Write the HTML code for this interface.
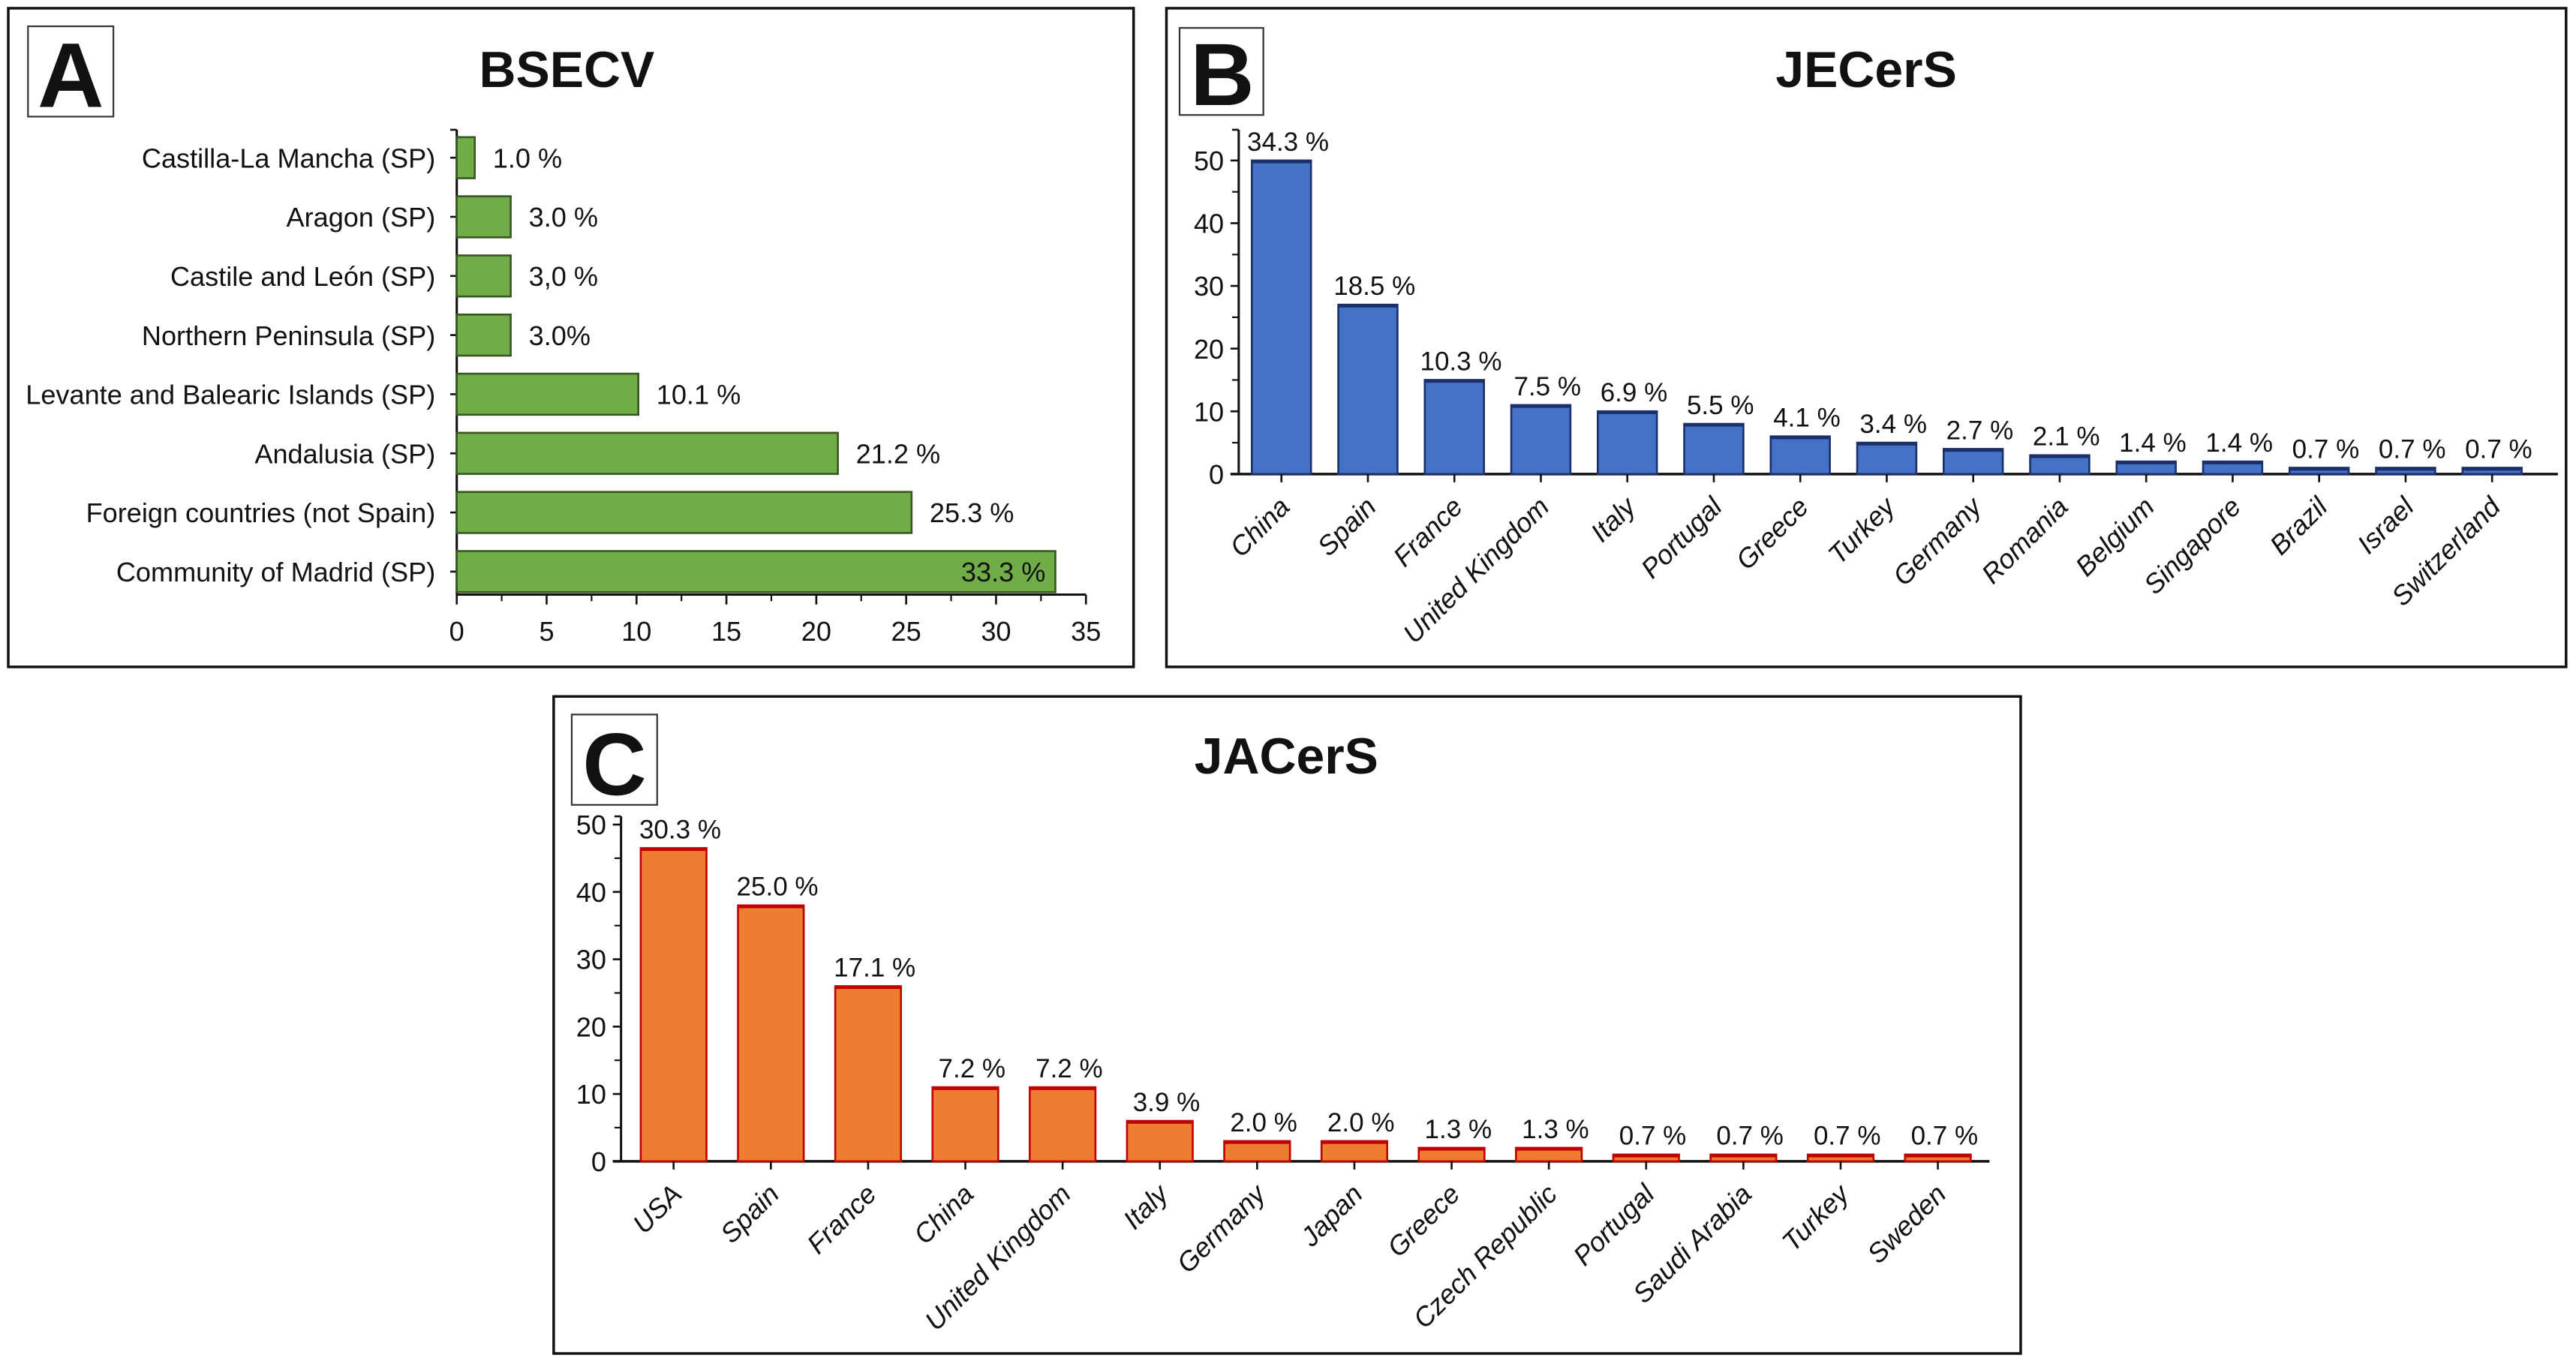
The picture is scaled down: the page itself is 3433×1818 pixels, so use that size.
<!DOCTYPE html>
<html><head><meta charset="utf-8">
<style>
html,body{margin:0;padding:0;background:#fff;}
svg{display:block;}
text{font-family:"Liberation Sans",Arial,sans-serif;fill:#111;}
</style></head>
<body>
<svg id="fig" width="3433" height="1818" viewBox="0 0 1568 830.4" xmlns="http://www.w3.org/2000/svg">
<rect x="0" y="0" width="1568" height="830.4" fill="#fff"/>
<rect x="5" y="5" width="685" height="401" fill="none" stroke="#111" stroke-width="1.6"/>
<rect x="710" y="5" width="852" height="401" fill="none" stroke="#111" stroke-width="1.6"/>
<rect x="337" y="424" width="893" height="400" fill="none" stroke="#111" stroke-width="1.6"/>
<rect x="17" y="16" width="52" height="55" fill="none" stroke="#333" stroke-width="1"/>
<text x="43" y="65" text-anchor="middle" font-size="56" font-weight="bold" fill="#222">A</text>
<rect x="718" y="17" width="51" height="53" fill="none" stroke="#333" stroke-width="1"/>
<text x="744" y="64" text-anchor="middle" font-size="54" font-weight="bold" fill="#222">B</text>
<rect x="348" y="435" width="52" height="55" fill="none" stroke="#333" stroke-width="1"/>
<text x="374" y="484" text-anchor="middle" font-size="54" font-weight="bold" fill="#222">C</text>
<text x="345" y="53" text-anchor="middle" font-size="31" font-weight="bold">BSECV</text>
<text x="1136" y="53" text-anchor="middle" font-size="31" font-weight="bold">JECerS</text>
<text x="783" y="471" text-anchor="middle" font-size="31" font-weight="bold">JACerS</text>
<g id="ga"></g>
<g id="gb"></g>
<g id="gc"></g>
</svg>
<script>
const aCategories = ["Castilla-La Mancha (SP)","Aragon (SP)","Castile and León (SP)","Northern Peninsula (SP)","Levante and Balearic Islands (SP)","Andalusia (SP)","Foreign countries (not Spain)","Community of Madrid (SP)"];
const aValues = [1,3,3,3,10.1,21.2,25.3,33.3];
const aLabels = ["1.0 %","3.0 %","3,0 %","3.0%","10.1 %","21.2 %","25.3 %","33.3 %"];
const aTicks = [0,5,10,15,20,25,30,35];

const bCategories = ["China","Spain","France","United Kingdom","Italy","Portugal","Greece","Turkey","Germany","Romania","Belgium","Singapore","Brazil","Israel","Switzerland"];
const bValues = [50,27,15,11,10,8,6,5,4,3,2,2,1,1,1];
const bLabels = ["34.3 %","18.5 %","10.3 %","7.5 %","6.9 %","5.5 %","4.1 %","3.4 %","2.7 %","2.1 %","1.4 %","1.4 %","0.7 %","0.7 %","0.7 %"];
const bTicks = [0,10,20,30,40,50];

const cCategories = ["USA","Spain","France","China","United Kingdom","Italy","Germany","Japan","Greece","Czech Republic","Portugal","Saudi Arabia","Turkey","Sweden"];
const cValues = [46.5,38,26,11,11,6,3,3,2,2,1,1,1,1];
const cLabels = ["30.3 %","25.0 %","17.1 %","7.2 %","7.2 %","3.9 %","2.0 %","2.0 %","1.3 %","1.3 %","0.7 %","0.7 %","0.7 %","0.7 %"];
const cTicks = [0,10,20,30,40,50];

const NS="http://www.w3.org/2000/svg";
function mk(parent,tag,attrs,txt){const e=document.createElementNS(NS,tag);for(const k in attrs)e.setAttribute(k,attrs[k]);if(txt!==undefined)e.textContent=txt;parent.appendChild(e);return e;}

(function(){
  const g=document.getElementById('ga');
  const x0=278, x1=661, vmax=35;
  const xs=v=>x0+(v/vmax)*(x1-x0);
  const yTop=79, axisY=362, y0=96, step=36, bh=25;
  const ys=i=>y0+i*step;
  let l=mk(g,'line',{x1:x0,y1:yTop,x2:x0,y2:axisY,stroke:'#111','stroke-width':1.4});
  
  
  l=mk(g,'line',{x1:x0,y1:axisY,x2:x1,y2:axisY,stroke:'#111','stroke-width':1.4});
  
  
  mk(g,'line',{x1:x0-4,y1:yTop,x2:x0,y2:yTop,stroke:'#111','stroke-width':1.2});
  aCategories.forEach((c,i)=>{
    const y=ys(i);
    mk(g,'line',{x1:x0-4,y1:y,x2:x0,y2:y,stroke:'#111','stroke-width':1.2});
    const r=mk(g,'rect',{x:x0,y:y-bh/2,width:xs(aValues[i])-x0,height:bh,fill:'#70ad47',stroke:'#385723','stroke-width':1.2});
    
    
    const t=mk(g,'text',{x:x0-13,y:y+6,'text-anchor':'end','font-size':16.5},c);
    
    
    const inside = i===aCategories.length-1;
    const vl=mk(g,'text',{x:inside?xs(aValues[i])-6:xs(aValues[i])+11,y:y+6,'text-anchor':inside?'end':'start','font-size':16.5},aLabels[i]);
    
    
  });
  aTicks.forEach(v=>{
    const x=xs(v);
    mk(g,'line',{x1:x,y1:axisY,x2:x,y2:axisY+6,stroke:'#111','stroke-width':1.2});
    if(v<vmax) mk(g,'line',{x1:xs(v+2.5),y1:axisY,x2:xs(v+2.5),y2:axisY+4,stroke:'#111','stroke-width':1});
    const t=mk(g,'text',{x:x,y:axisY+28,'text-anchor':'middle','font-size':16.5},String(v));
    
    
  });
})();

function vchart(gid,prefix,cats,vals,labs,ticks,o){
  const g=document.getElementById(gid);
  const ys=v=>o.y0-(v/50)*(o.y0-o.y50);
  const xc=i=>o.c0+i*o.step;
  let l=mk(g,'line',{x1:o.ax,y1:o.top,x2:o.ax,y2:o.y0,stroke:'#111','stroke-width':1.4});
  
  
  l=mk(g,'line',{x1:o.ax-5,y1:o.y0,x2:o.xend,y2:o.y0,stroke:'#111','stroke-width':1.6});
  
  
  mk(g,'line',{x1:o.ax-4,y1:o.top,x2:o.ax,y2:o.top,stroke:'#111','stroke-width':1.2});
  ticks.forEach(v=>{
    const y=ys(v);
    mk(g,'line',{x1:o.ax-5,y1:y,x2:o.ax,y2:y,stroke:'#111','stroke-width':1.2});
    if(v<50) mk(g,'line',{x1:o.ax-4,y1:ys(v+5),x2:o.ax,y2:ys(v+5),stroke:'#111','stroke-width':1});
    const t=mk(g,'text',{x:o.ax-9,y:y+6,'text-anchor':'end','font-size':16.5},String(v));
    
    
  });
  cats.forEach((c,i)=>{
    const x=xc(i), top=ys(vals[i]);
    const r=mk(g,'rect',{x:x-o.bw/2,y:top,width:o.bw,height:o.y0-top,fill:o.fill,stroke:o.stroke,'stroke-width':1.2});
    
    
    mk(g,'line',{x1:x-o.bw/2,y1:top+0.8,x2:x+o.bw/2,y2:top+0.8,stroke:o.stroke,'stroke-width':1.8});
    mk(g,'line',{x1:x,y1:o.y0,x2:x,y2:o.y0+5,stroke:'#111','stroke-width':1.2});
    const vl=mk(g,'text',{x:x+4,y:top-6,'text-anchor':'middle','font-size':16},labs[i]);
    
    
    const t=mk(g,'text',{x:x+6,y:o.y0+21,'text-anchor':'end','font-size':16.5,'font-style':'italic',transform:`rotate(-45 ${x+6} ${o.y0+21})`},c);
    
    
  });
}
vchart('gb','b',bCategories,bValues,bLabels,bTicks,{ax:754,top:79,y0:288.6,y50:97.7,c0:780,step:52.64,bw:36,xend:1557,fill:'#4472c4',stroke:'#1a2f6b'});
vchart('gc','c',cCategories,cValues,cLabels,cTicks,{ax:378,top:497,y0:707,y50:502,c0:410,step:59.2,bw:40,xend:1211,fill:'#ed7d31',stroke:'#c00000'});
</script>
</body></html>
